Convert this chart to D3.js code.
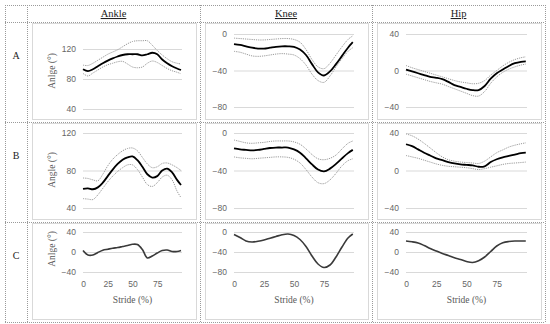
<!doctype html>
<html>
<head>
<style>
  body { margin: 0; background: #fff; }
  .tick text { font-family: "Liberation Sans", Arial, sans-serif; font-size: 8.5px; fill: #666; }
  .title { font-family: "Liberation Serif", serif; font-size: 9.5px; fill: #595959; }
  .head { font-family: "Liberation Serif", serif; font-size: 10.5px; fill: #222; text-decoration: underline; }
  .rowlab { font-family: "Liberation Serif", serif; font-size: 10px; fill: #222; }
</style>
<script src="https://d3js.org/d3.v7.min.js"></script>
</head>
<body>
<svg width="550" height="324"></svg>
<script>
// stride (%) sampled every 5
var stride = [0, 5, 10, 15, 20, 25, 30, 35, 40, 45, 50, 55, 60, 65, 70, 75, 80, 85, 90, 95, 99];

var joints = ["Ankle", "Knee", "Hip"];
var rows = ["A", "B", "C"];

// row A
var ankleAMean  = [93, 90.5, 93, 97, 101, 104.5, 107.5, 110, 112, 113, 113, 113, 111.5, 113, 115, 113, 106, 101, 97, 94, 92];
var ankleAUpper = [98.5, 98, 101, 105, 109, 113, 116, 119, 123, 127, 130, 131, 131, 131, 125, 118, 112, 107, 103, 101, 100];
var ankleALower = [87.5, 84, 88, 92, 96, 99, 101, 103, 103.5, 100, 96, 95, 96, 101, 104, 102, 98, 94, 91, 89, 87];
var kneeAMean   = [-11, -12, -13.5, -15, -16, -16, -15, -14, -13.5, -13.5, -14, -17, -23, -33, -42, -45.5, -41, -33, -24, -15, -9];
var kneeAUpper  = [-4.5, -5, -5.5, -6, -6.5, -6.5, -6, -5.5, -5, -5, -6, -9, -17, -28, -36, -38, -32, -23, -14, -6, -2];
var kneeALower  = [-19, -20, -22, -24, -24.5, -24, -23, -22, -21.5, -22, -23, -27, -34, -44, -51, -53, -46, -36, -27, -19, -15];
var hipAMean    = [1, -1, -3, -5, -7, -8, -9.5, -12.5, -16, -18, -20, -21.5, -21.5, -17, -9, -3, 1, 5, 8, 9.5, 10];
var hipAUpper   = [5.5, 3, 1, -1, -3, -5, -7, -9, -11, -12.5, -13.5, -14.5, -14, -11, -5, 0, 5, 9, 12, 14, 15];
var hipALower   = [-4, -6, -8, -10, -12, -13.5, -15, -17.5, -20, -22.5, -25, -27.5, -28, -23, -14, -7, -2, 1.5, 4, 6, 7];

// row B
var ankleBMean  = [60.5, 61, 60, 62, 67, 74, 81, 87, 91.5, 94, 95, 91, 84, 76, 72.5, 74, 80, 82, 78, 70, 64.5];
var ankleBUpper = [72, 71.5, 70, 69, 76, 85, 92, 97, 101, 103.5, 104, 101, 94, 87, 83, 84, 87.5, 88, 86, 83, 80];
var ankleBLower = [50, 49.5, 49, 54, 61, 68, 74, 79, 83, 86, 86, 81, 73, 65, 63, 67, 73, 75, 70, 58, 51];
var kneeBMean   = [-16.5, -17.5, -18, -18.5, -18, -17, -16, -15.5, -15.5, -15.5, -17.5, -21, -27, -33.5, -39, -41, -38, -33, -27, -21.5, -18];
var kneeBUpper  = [-7.5, -9, -10.5, -11, -10.5, -10, -9, -8.5, -8.5, -8.5, -9.5, -12, -17, -23, -27.5, -28.5, -27, -23.5, -17, -11, -8.5];
var kneeBLower  = [-25.5, -26.5, -27, -27.5, -27, -26.5, -26, -25.5, -25.5, -26, -28, -32, -39, -47, -53, -54, -50, -43, -35, -29.5, -27.5];
var hipBMean    = [28, 26, 22.5, 19, 16, 13, 11, 9, 7.5, 6.5, 6, 5.5, 4, 4.5, 9, 12, 14, 15.5, 17, 18.5, 19];
var hipBUpper   = [39, 37, 33.5, 29, 24, 19, 14.5, 11.5, 10, 9, 8.5, 8, 7.5, 10, 14.5, 19, 22, 25, 27, 28.5, 29.5];
var hipBLower   = [16, 14.5, 13, 11, 9, 7, 5.5, 4.5, 4, 3.5, 3, 2, 1, 2, 3.5, 5, 6.5, 7.5, 8, 8.5, 9];

// row C
var ankleC = [3, -6, -6, -1, 3.5, 5.5, 7.5, 9, 11, 13, 15.5, 15, 5, -12, -8, -2, 3, 4, 1, 1, 3];
var kneeC  = [-5, -11, -18, -20, -18.5, -16, -12.5, -9, -5.5, -4, -7, -15, -29, -48, -64, -71, -66, -50, -30, -12, -4];
var hipC   = [22, 20.5, 18, 13, 7, 2, -3, -7, -11.5, -15, -19, -21, -17.5, -10, 1, 12, 18.5, 21, 22, 22, 22];

// tick labels
var ankleTicks = [40, 80, 120];
var kneeTicks = [-80, -40, 0];
var hipTicks = [-40, 0, 40];
var ankleCTicks = [-40, 0, 40];
var strideTicks = [0, 25, 50, 75];

var panels = [
  { r: 0, c: 0, mean: ankleAMean, upper: ankleAUpper, lower: ankleALower, ticks: ankleTicks, ytitle: "Anlge (°)" },
  { r: 0, c: 1, mean: kneeAMean, upper: kneeAUpper, lower: kneeALower, ticks: kneeTicks },
  { r: 0, c: 2, mean: hipAMean, upper: hipAUpper, lower: hipALower, ticks: hipTicks },
  { r: 1, c: 0, mean: ankleBMean, upper: ankleBUpper, lower: ankleBLower, ticks: ankleTicks, ytitle: "Angle (°)" },
  { r: 1, c: 1, mean: kneeBMean, upper: kneeBUpper, lower: kneeBLower, ticks: kneeTicks },
  { r: 1, c: 2, mean: hipBMean, upper: hipBUpper, lower: hipBLower, ticks: hipTicks },
  { r: 2, c: 0, mean: ankleC, ticks: ankleCTicks, ytitle: "Anlge (°)" },
  { r: 2, c: 1, mean: kneeC, ticks: kneeTicks },
  { r: 2, c: 2, mean: hipC, ticks: hipTicks }
];

var svg = d3.select("svg");

// table grid
var colX = [5, 27, 200, 372, 545],
    rowY = [5, 22, 122, 222, 322];

var dotted = function(sel) {
  return sel.attr("stroke", "#9a9a9a").attr("stroke-width", 1).attr("stroke-dasharray", "1,1");
};
colX.forEach(function(x) {
  svg.append("line").attr("x1", x + 0.5).attr("x2", x + 0.5).attr("y1", rowY[0]).attr("y2", rowY[4]).call(dotted);
});
rowY.forEach(function(y) {
  svg.append("line").attr("x1", colX[0]).attr("x2", colX[4]).attr("y1", y + 0.5).attr("y2", y + 0.5).call(dotted);
});

joints.forEach(function(j, i) {
  svg.append("text").attr("class", "head")
     .attr("x", (colX[i + 1] + colX[i + 2]) / 2).attr("y", 17)
     .attr("text-anchor", "middle").text(j);
});
rows.forEach(function(r, i) {
  svg.append("text").attr("class", "rowlab")
     .attr("x", 16).attr("y", rowY[i + 1] + 37)
     .attr("text-anchor", "middle").text(r);
});

// chart boxes
for (var r = 0; r < 3; r++) {
  for (var c = 0; c < 3; c++) {
    svg.append("rect")
       .attr("x", colX[c + 1] + 5.5).attr("y", rowY[r + 1] + 1.5)
       .attr("width", colX[c + 2] - colX[c + 1] - 9).attr("height", rowY[r + 2] - rowY[r + 1] - 4)
       .attr("fill", "none").attr("stroke", "#d9d9d9");
  }
}

// plot rectangle inside each cell
var rowPad = [[27, 13], [11, 14], [10, 50]];
var titleY = [71, 170, 249];

panels.forEach(function(p) {
  var left = colX[p.c + 1] + (p.c === 0 ? 56 : 34),
      right = colX[p.c + 2] - 18,
      pad = (p.r === 0 && p.c > 0) ? [12, 15] : rowPad[p.r],
      top = rowY[p.r + 1] + pad[0],
      bottom = rowY[p.r + 2] - pad[1];

  var x = d3.scaleLinear().domain([0, 100]).range([left, right]);
  var y = d3.scaleLinear().domain(d3.extent(p.ticks)).range([bottom, top]);

  var g = svg.append("g");

  var yAxis = g.append("g").attr("class", "tick-axis")
     .attr("transform", "translate(" + left + ",0)")
     .call(d3.axisLeft(y).tickValues(p.ticks).tickSize(-(right - left)).tickPadding(7));
  yAxis.select(".domain").remove();
  yAxis.selectAll("line").attr("stroke", "#d9d9d9");

  if (p.r === 2) {
    var xAxis = g.append("g")
       .attr("transform", "translate(0," + (bottom + 6) + ")")
       .call(d3.axisBottom(x).tickValues(strideTicks).tickSize(0).tickPadding(3));
    xAxis.select(".domain").remove();
    g.append("text").attr("class", "title")
     .attr("x", (left + right) / 2).attr("y", bottom + 31)
     .attr("text-anchor", "middle").text("Stride (%)");
  }

  if (p.ytitle) {
    g.append("text").attr("class", "title")
     .attr("transform", "translate(55," + titleY[p.r] + ") rotate(-90)")
     .attr("text-anchor", "middle").text(p.ytitle);
  }

  var line = d3.line()
      .x(function(d, i) { return x(stride[i]); })
      .y(function(d) { return y(d); })
      .curve(d3.curveCatmullRom.alpha(0.5));

  if (p.upper) {
    [p.upper, p.lower].forEach(function(s) {
      g.append("path").attr("d", line(s)).attr("fill", "none")
       .attr("stroke", "#9a9a9a").attr("stroke-width", 1).attr("stroke-dasharray", "1.2,1");
    });
    g.append("path").attr("d", line(p.mean)).attr("fill", "none")
     .attr("stroke", "#000").attr("stroke-width", 1.8);
  } else {
    g.append("path").attr("d", line(p.mean)).attr("fill", "none")
     .attr("stroke", "#3a3a3a").attr("stroke-width", 1.6);
  }
});
</script>
</body>
</html>
